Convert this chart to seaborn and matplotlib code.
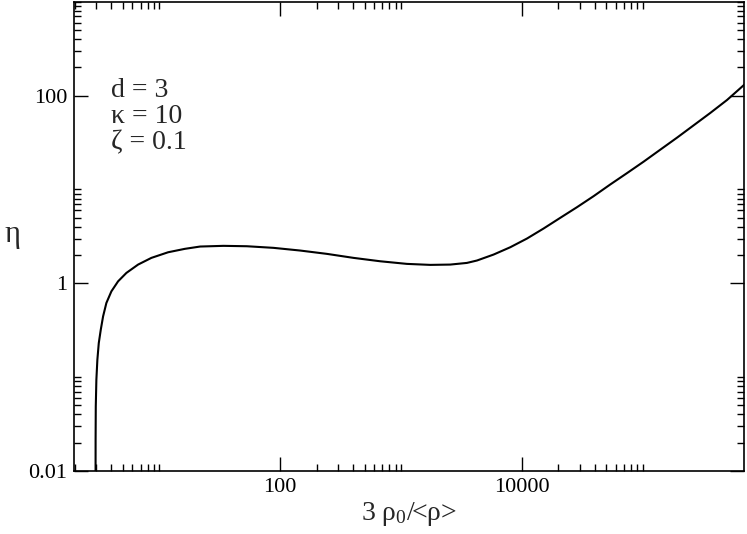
import matplotlib
matplotlib.use("Agg")
import matplotlib.pyplot as plt
import matplotlib.ticker as mticker
import numpy as np
import pandas as pd
import seaborn as sns

# values (x = 3 rho0/<rho>, eta)
x_vals = [2.97, 2.975, 2.985, 3.019, 3.077, 3.161, 3.283, 3.431, 3.653,
          4.019, 4.565, 5.349, 6.683, 8.610, 11.84, 16.27, 21.78, 33.95,
          53.03, 88.0, 146.4, 243.4, 404.2, 672, 1118, 1743, 2551, 3506,
          4243, 5821, 8002, 11000, 15090, 20750, 28520, 39130, 53790,
          73950, 101400, 139400, 191700, 263000, 361500, 497000, 695000]
eta_vals = [0.001, 0.0214, 0.0486, 0.0937, 0.1532, 0.231, 0.3203, 0.4443,
            0.6175, 0.8214, 1.050, 1.291, 1.584, 1.867, 2.143, 2.330,
            2.466, 2.508, 2.484, 2.388, 2.235, 2.060, 1.867, 1.718, 1.611,
            1.572, 1.584, 1.650, 1.750, 2.025, 2.424, 3.001, 3.838, 4.992,
            6.478, 8.49, 11.32, 14.95, 19.79, 26.58, 35.69, 48.3, 65.5,
            90.0, 132.0]

x_major = [1, 100, 10000, 1000000]
x_major_labels = ["1", "100", "10000", "1000000"]
y_major = [0.01, 1, 100]
y_major_labels = ["0.01", "1", "100"]
params = ["d = 3", "κ = 10", "ζ = 0.1"]

sns.set_style("ticks")
plt.rcParams["font.family"] = ["Liberation Serif", "DejaVu Serif"]
plt.rcParams["mathtext.fontset"] = "custom"
plt.rcParams["mathtext.rm"] = "Liberation Serif"
plt.rcParams["mathtext.it"] = "Liberation Serif:italic"

df = pd.DataFrame({"x": x_vals, "eta": eta_vals})

fig = plt.figure(figsize=(7.47, 5.34), dpi=100)
ax = fig.add_axes([0.099, 0.118, 0.8974, 0.8786])
sns.lineplot(data=df, x="x", y="eta", ax=ax, color="black", linewidth=1.5,
             sort=False, estimator=None, solid_joinstyle="round",
             solid_capstyle="round")
ax.set_xscale("log")
ax.set_yscale("log")
ax.set_xlim(1.97, 6.9e5)
ax.set_ylim(0.01, 1000)

ax.xaxis.set_major_locator(mticker.FixedLocator(x_major))
ax.xaxis.set_major_formatter(mticker.FixedFormatter(x_major_labels))
ax.yaxis.set_major_locator(mticker.FixedLocator(y_major))
ax.yaxis.set_major_formatter(mticker.FixedFormatter(y_major_labels))
xminor = [k * 10.0 ** e for e in (0, 2, 4) for k in range(2, 11)]
yminor = [k * 10.0 ** e for e in (-2, 0, 2) for k in range(2, 11)]
ax.xaxis.set_minor_locator(mticker.FixedLocator(xminor))
ax.yaxis.set_minor_locator(mticker.FixedLocator(yminor))
ax.xaxis.set_minor_formatter(mticker.NullFormatter())
ax.yaxis.set_minor_formatter(mticker.NullFormatter())

ax.tick_params(which="both", direction="in", top=True, right=True,
               colors="black", width=1.0)
ax.tick_params(which="major", length=9.8, labelsize=16, pad=5)
ax.tick_params(which="minor", length=5)
for s in ax.spines.values():
    s.set_linewidth(1.2)
    s.set_color("black")

ax.set_xlabel("3 ρ$_{0}$/<ρ>", fontsize=20, labelpad=2)
ax.set_ylabel("η", fontsize=22, rotation=0, ha="center", va="center")
ax.yaxis.set_label_coords(-0.091, 0.505)

for i, t in enumerate(params):
    ax.text(0.0552, 0.812 - i * 0.0568, t, transform=ax.transAxes,
            fontsize=20, ha="left", va="center")

fig.savefig("out.png", dpi=100)
